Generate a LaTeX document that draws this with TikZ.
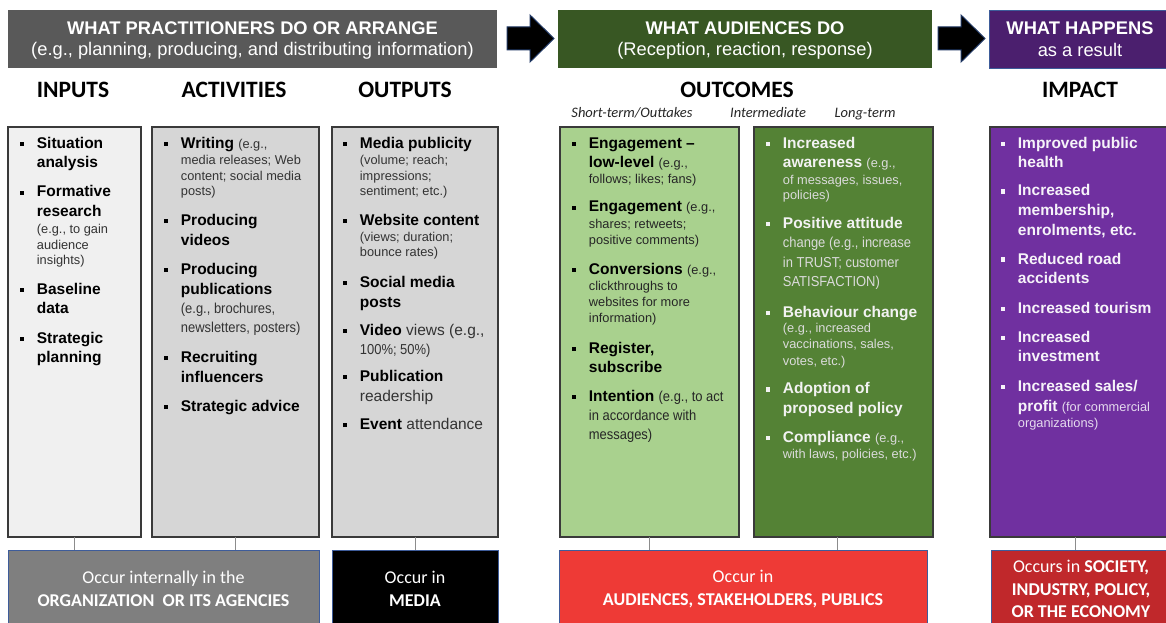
\documentclass[tikz,border=0pt]{standalone}
\usepackage{fontspec}
\setmainfont{Liberation Sans}
\newfontfamily\carlito{Carlito}
\newfontfamily\condfont[FakeStretch=0.9]{Liberation Sans}

% palette
\definecolor{hgray}{HTML}{595959}
\definecolor{hgreen}{HTML}{385723}
\definecolor{hpurple}{HTML}{4B1F6E}
\definecolor{inbox}{HTML}{F0F0F0}
\definecolor{midbox}{HTML}{D6D6D6}
\definecolor{lgreen}{HTML}{A9D18E}
\definecolor{dgreen}{HTML}{548235}
\definecolor{purp}{HTML}{7030A0}
\definecolor{boxedge}{HTML}{3A3A3A}
\definecolor{botgray}{HTML}{7F7F7F}
\definecolor{redA}{HTML}{EE3A36}
\definecolor{redB}{HTML}{C0282B}
\definecolor{botedge}{HTML}{3E5C9A}
\definecolor{conngray}{HTML}{8C8C8C}
\definecolor{arrowedge}{HTML}{203864}
\colorlet{sc}{black}

% text sizes used in the lists
\newcommand\tB{\fontsize{15.5}{19.5}\selectfont\bfseries}
\newcommand\tR{\fontsize{15.5}{19.5}\selectfont\mdseries\color{sc}}
\newcommand\tS{\fontsize{12.8}{16}\selectfont\mdseries\color{sc}}
\newcommand\tM{\condfont\fontsize{14.4}{19.5}\selectfont\mdseries\color{sc}}

% one list line: baseline distance from the previous line, then its text
\newlength\bulw \setlength\bulw{17pt}
\newcommand\bsq{\raisebox{2.3pt}{\rule{4.2pt}{4.2pt}}}
\newcommand\Lfirst[2]{\baselineskip=#1pt\relax\noindent\makebox[\bulw][l]{\bsq}#2\par}
\newcommand\Lnext[2]{\baselineskip=#1pt\relax\noindent\hspace*{\bulw}#2\par}
\newcommand\listsetup{\hsize=230pt\parindent=0pt\parskip=0pt\lineskiplimit=-1000pt\leftskip=0pt\rightskip=0pt plus 1fil\hbox{}}

\begin{document}
\begin{tikzpicture}[x=1pt,y=-1pt,
  hdr/.style={anchor=north west, inner sep=0pt, outer sep=0pt, text=white, align=center,
    minimum height=58pt, font=\fontsize{18.3}{21.5}\selectfont},
  colbox/.style={anchor=north west, draw=boxedge, line width=1.2pt, inner sep=0pt,
    outer sep=0pt, minimum height=410pt},
  list/.style={anchor=north west, inner sep=0pt, outer sep=0pt,
    font=\fontsize{15.5}{19.5}\selectfont},
  lab/.style={anchor=base, inner sep=0pt, font=\carlito\bfseries\fontsize{23.5}{28}\selectfont},
  sub/.style={anchor=base, inner sep=0pt, text=black!85, font=\carlito\itshape\fontsize{14.5}{18}\selectfont},
  botbox/.style={anchor=north west, draw=botedge, line width=0.8pt, inner sep=0pt,
    outer sep=0pt, minimum height=78pt, text=white, align=center,
    font=\carlito\fontsize{18}{22.5}\selectfont},
  conn/.style={draw=conngray, line width=0.8pt},
  blockarrow/.style={fill=black, draw=arrowedge, line width=1pt, line join=miter}]

\useasboundingbox (0,0) rectangle (1166,623);
\clip (0,0) rectangle (1166,623);
\fill[white] (0,0) rectangle (1166,623);

% ---- header bands
\node[hdr, fill=hgray, minimum width=489pt] (prac) at (8,10)
  {\rule{0pt}{15.5pt}\textbf{WHAT PRACTITIONERS DO OR ARRANGE}\\(e.g., planning, producing, and distributing information)};
\node[hdr, fill=hgreen, minimum width=374pt] (aud) at (558,10)
  {\rule{0pt}{15.5pt}\textbf{WHAT AUDIENCES DO}\\(Reception, reaction, response)};
\node[hdr, fill=hpurple, draw=botedge, line width=0.8pt, minimum width=182pt] (res) at (989,10)
  {\textbf{WHAT HAPPENS}\\as a result};

% ---- block arrows between the bands
\filldraw[blockarrow] (507,27) -- (530,27) -- (530,15) -- (554,38.5) -- (530,62) -- (530,50) -- (507,50) -- cycle;
\filldraw[blockarrow] (938,27) -- (961,27) -- (961,15) -- (985,38.5) -- (961,62) -- (961,50) -- (938,50) -- cycle;

% ---- column headings
\node[lab] (lIn) at (73,97.6) {INPUTS};
\node[lab] (lAct) at (234,97.6) {ACTIVITIES};
\node[lab] (lOut) at (405,97.6) {OUTPUTS};
\node[lab] (lOc) at (737,97.6) {OUTCOMES};
\node[lab] (lImp) at (1080,97.6) {IMPACT};
\node[sub] (sShort) at (632,117.5) {Short-term/Outtakes};
\node[sub] (sMid) at (768,117.5) {Intermediate};
\node[sub] (sLong) at (865,117.5) {Long-term};

% ---- column boxes
\node[colbox, fill=inbox, minimum width=133pt] (inputs) at (8,127) {};
\node[colbox, fill=midbox, minimum width=167pt] (activ) at (152,127) {};
\node[colbox, fill=midbox, minimum width=166pt] (outputs) at (332,127) {};
\node[colbox, fill=lgreen, minimum width=179pt] (shortb) at (560,127) {};
\node[colbox, fill=dgreen, minimum width=179pt] (longb) at (754,127) {};
\node[colbox, fill=purp, minimum width=182pt] (impact) at (990,127) {};

% ---- lists
\node[list, text=black] (inL) at (19.9,127) {\vtop{\colorlet{sc}{black!80}\listsetup
  \Lfirst{21}{{\tB Situation}}
  \Lnext{19.5}{{\tB analysis}}
  \Lfirst{29.5}{{\tB Formative}}
  \Lnext{19.5}{{\tB research}}
  \Lnext{16.5}{{\tS (e.g., to gain}}
  \Lnext{16}{{\tS audience}}
  \Lnext{16}{{\tS insights)}}
  \Lfirst{29}{{\tB Baseline}}
  \Lnext{19.5}{{\tB data}}
  \Lfirst{29.5}{{\tB Strategic}}
  \Lnext{19.5}{{\tB planning}}
}};

\node[list, text=black] (actL) at (163.9,127) {\vtop{\colorlet{sc}{black!80}\listsetup
  \Lfirst{21}{{\tB Writing} {\tS (e.g.,}}
  \Lnext{16}{{\tS media releases; Web}}
  \Lnext{16}{{\tS content; social media}}
  \Lnext{16}{{\tS posts)}}
  \Lfirst{29.5}{{\tB Producing}}
  \Lnext{19.5}{{\tB videos}}
  \Lfirst{29.5}{{\tB Producing}}
  \Lnext{19.5}{{\tB publications}}
  \Lnext{19.5}{{\tM (e.g., brochures,}}
  \Lnext{19}{{\tM newsletters, posters)}}
  \Lfirst{30}{{\tB Recruiting}}
  \Lnext{19.5}{{\tB influencers}}
  \Lfirst{29.5}{{\tB Strategic advice}}
}};

\node[list, text=black] (outL) at (342.9,127) {\vtop{\colorlet{sc}{black!80}\listsetup
  \Lfirst{21}{{\tB Media publicity}}
  \Lnext{16}{{\tS (volume; reach;}}
  \Lnext{16}{{\tS impressions;}}
  \Lnext{16}{{\tS sentiment; etc.)}}
  \Lfirst{29.5}{{\tB Website content}}
  \Lnext{15.5}{{\tS (views; duration;}}
  \Lnext{16}{{\tS bounce rates)}}
  \Lfirst{30.5}{{\tB Social media}}
  \Lnext{19.5}{{\tB posts}}
  \Lfirst{28.5}{{\tB Video} {\tR views (e.g.,}}
  \Lnext{18.5}{{\tM 100\%; 50\%)}}
  \Lfirst{27.5}{{\tB Publication}}
  \Lnext{19.5}{{\tR readership}}
  \Lfirst{28.5}{{\tB Event} {\tR attendance}}
}};

\node[list, text=black] (shortL) at (571.9,127) {\vtop{\colorlet{sc}{black!85}\listsetup
  \Lfirst{21}{{\tB Engagement --}}
  \Lnext{19}{{\tB low-level} {\tS (e.g.,}}
  \Lnext{16.5}{{\tS follows; likes; fans)}}
  \Lfirst{28.5}{{\tB Engagement} {\tS (e.g.,}}
  \Lnext{16.5}{{\tS shares; retweets;}}
  \Lnext{16}{{\tS positive comments)}}
  \Lfirst{29.5}{{\tB Conversions} {\tS (e.g.,}}
  \Lnext{16.5}{{\tS clickthroughs to}}
  \Lnext{16}{{\tS websites for more}}
  \Lnext{16}{{\tS information)}}
  \Lfirst{30.5}{{\tB Register,}}
  \Lnext{19.5}{{\tB subscribe}}
  \Lfirst{28.5}{{\tB Intention} {\tM (e.g., to act}}
  \Lnext{19}{{\tM in accordance with}}
  \Lnext{19.5}{{\tM messages)}}
}};

\node[list, text=white!95!black] (longL) at (765.9,127) {\vtop{\colorlet{sc}{white!86!black}\listsetup
  \Lfirst{21}{{\tB Increased}}
  \Lnext{19.5}{{\tB awareness} {\tS (e.g.,}}
  \Lnext{16.5}{{\tS of messages, issues,}}
  \Lnext{16}{{\tS policies)}}
  \Lfirst{28.5}{{\tB Positive attitude}}
  \Lnext{19.3}{{\tM change (e.g., increase}}
  \Lnext{19.7}{{\tM in TRUST; customer}}
  \Lnext{19.3}{{\tM SATISFACTION)}}
  \Lfirst{30.5}{{\tB Behaviour change}}
  \Lnext{15.5}{{\tS (e.g., increased}}
  \Lnext{16}{{\tS vaccinations, sales,}}
  \Lnext{16.5}{{\tS votes, etc.)}}
  \Lfirst{28.5}{{\tB Adoption of}}
  \Lnext{19.5}{{\tB proposed policy}}
  \Lfirst{29}{{\tB Compliance} {\tS (e.g.,}}
  \Lnext{16.5}{{\tS with laws, policies, etc.)}}
}};

\node[list, text=purp!6!white] (impL) at (1000.9,127) {\vtop{\colorlet{sc}{purp!18!white}\listsetup
  \Lfirst{21}{{\tB Improved public}}
  \Lnext{19.5}{{\tB health}}
  \Lfirst{28.5}{{\tB Increased}}
  \Lnext{19.5}{{\tB membership,}}
  \Lnext{19.5}{{\tB enrolments, etc.}}
  \Lfirst{29}{{\tB Reduced road}}
  \Lnext{19.5}{{\tB accidents}}
  \Lfirst{29.5}{{\tB Increased tourism}}
  \Lfirst{29}{{\tB Increased}}
  \Lnext{19.5}{{\tB investment}}
  \Lfirst{29.5}{{\tB Increased sales/}}
  \Lnext{20}{{\tB profit} {\tS (for commercial}}
  \Lnext{16}{{\tS organizations)}}
}};

% ---- where things happen
\node[botbox, fill=botgray, minimum width=311pt] (orgbox) at (8,550)
  {Occur internally in the\\\textbf{ORGANIZATION\ \ OR ITS AGENCIES}};
\node[botbox, fill=black, minimum width=166pt] (medbox) at (332,550)
  {Occur in\\\textbf{MEDIA}};
\node[botbox, fill=redA, minimum width=368pt] (audbox) at (559,550)
  {Occur in\\\textbf{AUDIENCES, STAKEHOLDERS, PUBLICS}};
\node[botbox, fill=redB, minimum width=180pt] (socbox) at (991,550)
  {Occurs in \textbf{SOCIETY,}\\\textbf{INDUSTRY, POLICY,}\\\textbf{OR THE ECONOMY}};

% ---- connectors from columns to their places
\coordinate (longc) at ([xshift=-6pt]longb.south);
\coordinate (impc) at ([xshift=-6pt]impact.south);
\draw[conn] (inputs.south) -- (inputs.south |- orgbox.north);
\draw[conn] (activ.south) -- (activ.south |- orgbox.north);
\draw[conn] (outputs.south) -- (outputs.south |- medbox.north);
\draw[conn] (shortb.south) -- (shortb.south |- audbox.north);
\draw[conn] (longc) -- (longc |- audbox.north);
\draw[conn] (impc) -- (impc |- socbox.north);

\end{tikzpicture}
\end{document}
